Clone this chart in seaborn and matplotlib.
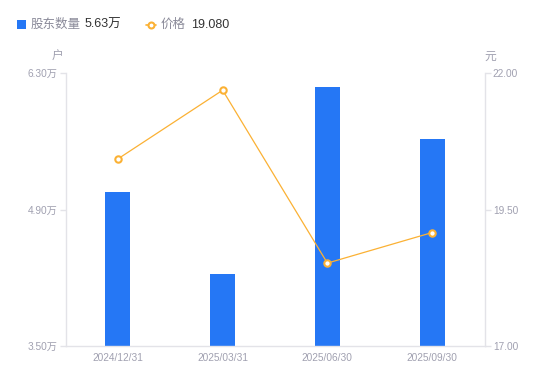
import matplotlib
matplotlib.use("Agg")
import matplotlib.pyplot as plt
import seaborn as sns
import numpy as np
import pandas as pd
from matplotlib.ticker import FuncFormatter, FixedLocator
from matplotlib.lines import Line2D
from matplotlib.patches import Rectangle

dates = ["2024/12/31", "2025/03/31", "2025/06/30", "2025/09/30"]
holders = [5.08, 4.24, 6.16, 5.63]   # 万户
prices = [20.43, 21.69, 18.52, 19.08]
left_ticks = [3.50, 4.90, 6.30]
right_ticks = [17.00, 19.50, 22.00]

BLUE = "#2577F5"
ORANGE = "#FBB134"
TICK = "#A0A0B0"
AXIS = "#E3E3E8"

sns.set_theme(style="white")
plt.rcParams["font.family"] = ["Liberation Sans", "Noto Sans CJK SC", "DejaVu Sans"]

fig = plt.figure(figsize=(5.5, 3.81), dpi=100)
ax = fig.add_axes([65.5 / 550, 35 / 381, 419 / 550, 272.7 / 381])

df = pd.DataFrame({"date": dates, "holders": holders, "price": prices})
sns.barplot(data=df, x="date", y="holders", ax=ax, color=BLUE, width=0.24,
            saturation=1, edgecolor="none")
ax.set_ylim(left_ticks[0], left_ticks[-1])
ax.yaxis.set_major_locator(FixedLocator(left_ticks))
ax.yaxis.set_major_formatter(FuncFormatter(lambda v, p: f"{v:.2f}万"))
ax.set_xlabel("")
ax.set_ylabel("")
ax.set_xlim(-0.5, len(dates) - 0.5)

ax2 = ax.twinx()
sns.lineplot(x=np.arange(len(dates)), y=prices, ax=ax2, color=ORANGE, linewidth=0.9,
             marker="o", markersize=4.6, markerfacecolor="white",
             markeredgecolor=ORANGE, markeredgewidth=1.5)
ax2.set_ylim(right_ticks[0], right_ticks[-1])
ax2.yaxis.set_major_locator(FixedLocator(right_ticks))
ax2.yaxis.set_major_formatter(FuncFormatter(lambda v, p: f"{v:.2f}"))
ax2.set_xlim(-0.5, len(dates) - 0.5)

for a in (ax, ax2):
    for s in a.spines.values():
        s.set_color(AXIS)
        s.set_linewidth(1)
    a.spines["top"].set_visible(False)
    a.grid(False)

ax.spines["right"].set_visible(False)
ax2.spines["left"].set_visible(False)
ax2.spines["bottom"].set_visible(False)

ax.tick_params(axis="y", colors=AXIS, labelcolor=TICK, labelsize=7.3, length=4,
               width=1, pad=2, direction="out", left=True)
ax.tick_params(axis="x", labelcolor=TICK, labelsize=7.3, length=0, pad=5)
ax2.tick_params(axis="y", colors=AXIS, labelcolor=TICK, labelsize=7.3, length=4,
                width=1, pad=2, direction="out", right=True)

fig.text(58 / 550, 1 - 57 / 381, "户", color=TICK, fontsize=8.5, ha="center", va="center")
fig.text(490 / 550, 1 - 57 / 381, "元", color=TICK, fontsize=8.5, ha="center", va="center")

# legend
fig.patches.append(Rectangle((17 / 550, 1 - 29 / 381), 9 / 550, 9 / 381,
                             transform=fig.transFigure, facecolor=BLUE,
                             edgecolor="none"))
fig.text(31 / 550, 1 - 24.5 / 381, "股东数量", color="#8A8A99", fontsize=9, va="center")
fig.text(85 / 550, 1 - 24.5 / 381, "5.63万", color="#333333", fontsize=9, va="center")
fig.lines.append(Line2D([146 / 550, 156 / 550], [1 - 25 / 381, 1 - 25 / 381],
                        transform=fig.transFigure, color=ORANGE, linewidth=1.2))
fig.lines.append(Line2D([151 / 550], [1 - 25 / 381], transform=fig.transFigure,
                        marker="o", markersize=4.3, markerfacecolor="white",
                        markeredgecolor=ORANGE, markeredgewidth=1.5, color=ORANGE))
fig.text(161 / 550, 1 - 24.5 / 381, "价格", color="#8A8A99", fontsize=9, va="center")
fig.text(191 / 550, 1 - 24.5 / 381, "19.080", color="#333333", fontsize=9, va="center")

fig.savefig("out.png", dpi=100)
